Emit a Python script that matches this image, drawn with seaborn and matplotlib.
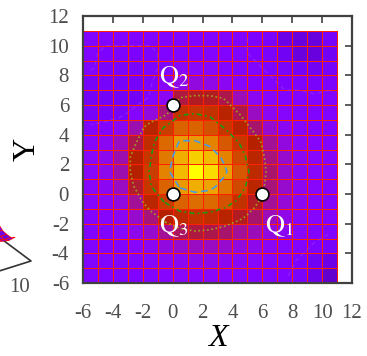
import numpy as np
import pandas as pd
import matplotlib
matplotlib.use("Agg")
import matplotlib.pyplot as plt
import seaborn as sns
from mpl_toolkits.mplot3d import proj3d

# ---------------- data ----------------
x_edges = [-6, -5, -4, -3, -2, -1, 0, 1, 2, 3, 4, 5, 6, 7, 8, 9, 10, 11]
y_edges = [-6, -5, -4, -3, -2, -1, 0, 1, 2, 3, 4, 5, 6, 7, 8, 9, 10, 11]

# palette index of each cell, rows from y=-6 (bottom) to y=10 (top)
z_rows = [
    [0.25, 0.25, 0.25, 0.25, 0.26, 0.27, 0.28, 0.28, 0.28, 0.28, 0.27, 0.26, 0.26, 0.25, 0.23, 0.19, 0.15],
    [0.25, 0.25, 0.25, 0.26, 0.27, 0.29, 0.30, 0.31, 0.31, 0.30, 0.29, 0.28, 0.27, 0.26, 0.24, 0.20, 0.18],
    [0.25, 0.25, 0.26, 0.28, 0.30, 0.33, 0.35, 0.36, 0.36, 0.35, 0.33, 0.31, 0.29, 0.27, 0.26, 0.24, 0.22],
    [0.25, 0.26, 0.28, 0.31, 0.35, 0.40, 0.44, 0.46, 0.45, 0.43, 0.40, 0.37, 0.33, 0.30, 0.28, 0.26, 0.25],
    [0.26, 0.27, 0.30, 0.35, 0.42, 0.50, 0.55, 0.58, 0.56, 0.52, 0.48, 0.43, 0.37, 0.32, 0.29, 0.27, 0.26],
    [0.27, 0.29, 0.33, 0.40, 0.53, 0.62, 0.73, 0.75, 0.74, 0.68, 0.58, 0.48, 0.40, 0.34, 0.30, 0.27, 0.26],
    [0.28, 0.30, 0.36, 0.47, 0.60, 0.73, 0.84, 0.88, 0.86, 0.78, 0.66, 0.53, 0.42, 0.35, 0.30, 0.28, 0.26],
    [0.28, 0.31, 0.38, 0.50, 0.62, 0.80, 0.90, 1.00, 0.95, 0.85, 0.70, 0.55, 0.43, 0.35, 0.30, 0.28, 0.27],
    [0.28, 0.31, 0.38, 0.50, 0.60, 0.78, 0.88, 0.93, 0.90, 0.80, 0.66, 0.53, 0.42, 0.35, 0.30, 0.28, 0.27],
    [0.27, 0.30, 0.36, 0.45, 0.56, 0.74, 0.84, 0.84, 0.80, 0.70, 0.60, 0.50, 0.40, 0.33, 0.29, 0.27, 0.26],
    [0.25, 0.26, 0.30, 0.38, 0.52, 0.62, 0.73, 0.73, 0.68, 0.60, 0.52, 0.43, 0.35, 0.30, 0.27, 0.26, 0.25],
    [0.22, 0.22, 0.22, 0.27, 0.33, 0.42, 0.58, 0.60, 0.58, 0.52, 0.45, 0.36, 0.30, 0.27, 0.25, 0.25, 0.25],
    [0.21, 0.21, 0.21, 0.21, 0.25, 0.30, 0.46, 0.48, 0.48, 0.45, 0.37, 0.30, 0.27, 0.25, 0.25, 0.25, 0.25],
    [0.22, 0.22, 0.22, 0.22, 0.24, 0.28, 0.32, 0.33, 0.32, 0.30, 0.27, 0.26, 0.25, 0.24, 0.24, 0.23, 0.24],
    [0.25, 0.23, 0.23, 0.23, 0.24, 0.25, 0.28, 0.28, 0.27, 0.26, 0.25, 0.25, 0.24, 0.23, 0.21, 0.20, 0.22],
    [0.25, 0.24, 0.24, 0.24, 0.24, 0.25, 0.26, 0.26, 0.26, 0.26, 0.25, 0.24, 0.23, 0.20, 0.17, 0.17, 0.20],
    [0.25, 0.25, 0.25, 0.25, 0.25, 0.25, 0.25, 0.25, 0.25, 0.25, 0.25, 0.24, 0.23, 0.18, 0.17, 0.17, 0.22],
]

contour_levels = [0.245, 0.46, 0.61, 0.83]
contour_colors = ["#a040ff", "#a0a020", "#1a9a1a", "#4a9ae0"]
contour_styles = [(0, (4, 3)), (0, (1, 1.6)), (0, (3, 2, 1, 2)), (0, (4, 2.5))]

q_names = [r"$\mathrm{Q}_1$", r"$\mathrm{Q}_2$", r"$\mathrm{Q}_3$"]
q_x = [6, 0, 0]
q_y = [0, 6, 0]

x_ticks = [-6, -4, -2, 0, 2, 4, 6, 8, 10, 12]
y_ticks = [-6, -4, -2, 0, 2, 4, 6, 8, 10, 12]
frag_tick = "10"

# ---------------- style ----------------
sns.set_theme(style="ticks")
plt.rcParams["font.family"] = ["Liberation Serif", "DejaVu Serif"]
plt.rcParams["mathtext.fontset"] = "stix"

Z = np.array(z_rows)
xe = np.array(x_edges, dtype=float)
ye = np.array(y_edges, dtype=float)
xc = (xe[:-1] + xe[1:]) / 2
yc = (ye[:-1] + ye[1:]) / 2

W, H = 367, 356
fig = plt.figure(figsize=(W / 100, H / 100), dpi=100)

# ---- fragment of neighbouring 3D panel (cut off at the left) ----
ax3 = fig.add_axes([-0.5, 0.1, 0.6, 0.6], projection="3d", proj_type="ortho")
ax3.patch.set_visible(False)
XX, YY = np.meshgrid(xc, yc)
zmin, zmax = -0.1, 1.2
ax3.plot_surface(XX, YY, Z, cmap="gnuplot", vmin=0, vmax=1,
                 edgecolor="red", linewidth=0.5, shade=False)
ax3.contour(XX, YY, Z, levels=[0.245], zdir="z", offset=zmin,
            colors="#a040ff", linestyles="dashed", linewidths=0.8)
ax3.set_xlim(-6, 12)
ax3.set_ylim(-6, 12)
ax3.set_zlim(zmin, zmax)
ax3.view_init(elev=29, azim=-33)
ax3.set_axis_off()
xl, yl = ax3.get_xlim(), ax3.get_ylim()
bx = [xl[0], xl[1], xl[1], xl[0], xl[0]]
by = [yl[0], yl[0], yl[1], yl[1], yl[0]]
ax3.plot(bx, by, [zmin] * 5, color="#333333", linewidth=1.2, zorder=0)

# align the right-hand base corner of the 3D box with the reference position
fig.canvas.draw()
def proj_px(x, y, z):
    px, py, _ = proj3d.proj_transform(x, y, z, ax3.get_proj())
    return ax3.transData.transform((px, py))
cx, cy = proj_px(xl[1], yl[1], zmin)
pos = ax3.get_position()
tx, ty = 31, H - 261
ax3.set_position([pos.x0 + (tx - cx) / W, pos.y0 + (ty - cy) / H, pos.width, pos.height])
fig.text((tx - 11) / W, (ty - 26) / H, frag_tick, ha="center", va="center",
         fontsize=15, color="#4d4d4d")

# ---- main map ----
ax = fig.add_axes([83 / W, 1 - 283 / H, 269 / W, 267 / H])
ax.pcolormesh(xe, ye, Z, cmap="gnuplot", vmin=0, vmax=1,
              edgecolors="#ff2000", linewidth=0.6)
for lev, col, ls in zip(contour_levels, contour_colors, contour_styles):
    faint = lev < 0.3
    ax.contour(xc, yc, Z, levels=[lev], colors=[col],
               linewidths=0.8 if faint else 1.2,
               linestyles=[ls], alpha=0.5 if faint else 1.0)

df = pd.DataFrame({"x": q_x, "y": q_y, "name": q_names})
sns.scatterplot(data=df, x="x", y="y", ax=ax, s=85, color="white",
                edgecolor="black", linewidth=1.2, zorder=5, legend=False)
offsets = [(17, -38), (1, 22), (1, -38)]
for (px, py, nm), (dx, dy) in zip(zip(q_x, q_y, q_names), offsets):
    ax.annotate(nm, (px, py), xytext=(dx, dy), textcoords="offset pixels",
                ha="center", va="baseline", color="white", fontsize=19, zorder=6)

ax.set_xlim(-6, 12)
ax.set_ylim(-6, 12)
ax.set_xticks(x_ticks)
ax.set_yticks(y_ticks)
ax.set_xticklabels([str(t) for t in x_ticks])
ax.set_yticklabels([str(t) for t in y_ticks])
ax.tick_params(direction="in", length=5, width=1.2, color="#404040",
               labelsize=15, labelcolor="#4d4d4d", top=True, right=True)
ax.tick_params(axis="x", pad=15)
ax.tick_params(axis="y", pad=10)
for sp in ax.spines.values():
    sp.set_color("#404040")
    sp.set_linewidth(1.6)
ax.set_xlabel("X", fontsize=23, fontstyle="italic", color="black", labelpad=1)
ax.set_ylabel("Y", fontsize=23, color="black", labelpad=5)

fig.savefig("out.png", dpi=100)
